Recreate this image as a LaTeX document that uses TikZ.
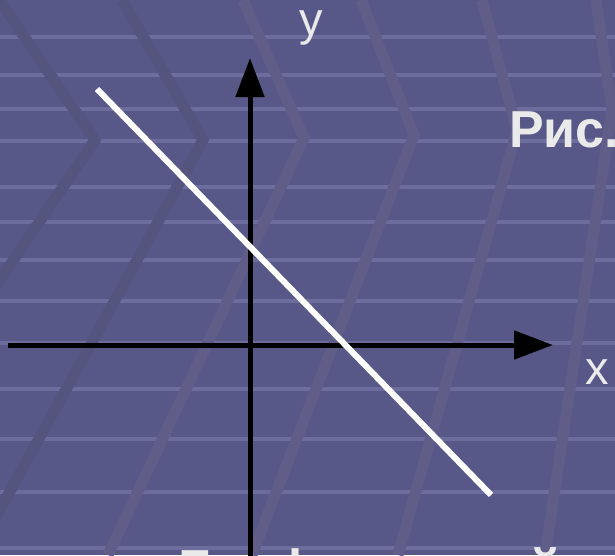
\documentclass[tikz,border=0pt]{standalone}
\usepackage{fontspec}
\setmainfont{Liberation Sans}
\usetikzlibrary{arrows.meta}
\definecolor{slidebg}{RGB}{88,88,136}
\definecolor{slidestripe}{RGB}{108,108,157}
\definecolor{slideband}{RGB}{96,94,136}
\definecolor{slidebanddk}{RGB}{84,84,126}
\definecolor{labelgray}{RGB}{234,234,234}

\begin{document}
\begin{tikzpicture}[x=1pt, y=-1pt,
        axis/.style={line width=5pt, -{Triangle[length=39pt,width=28pt]}},
        graphline/.style={white, line width=6pt},
        band/.style={slideband, line width=11pt, line join=miter},
        lbl/.style={text=labelgray, inner sep=0pt, font=\fontsize{47}{56}\selectfont},
        title/.style={text=labelgray, inner sep=0pt, font=\fontsize{52}{62}\selectfont\bfseries},
    ]
        \useasboundingbox (0,0) rectangle (615,555);
        \clip (0,0) rectangle (615,555);
        % slide background
        \fill[slidebg] (0,0) rectangle (615,555);
        \foreach \yy in {37,75,109,141,187,222,260,301,343,389,439,492,548}
            \draw[slidestripe, line width=4pt] (0,\yy) -- (615,\yy);
        \draw[band, slidebanddk] (-1,0) -- (95,140) -- (-7,290);
        \draw[band, slidebanddk] (122,0) -- (203,140) -- (-25,555);
        \draw[band] (243,0) -- (304,138) -- (108,555);
        \draw[band] (361,0) -- (414,135) -- (252,555);
        \draw[band] (482,0) -- (517,130) -- (398,555);
        \draw[band] (596,0) -- (612,110) -- (545,555);
        % texts
        \node[lbl, anchor=base west] (ylbl) at (299,35) {y};
        \node[lbl, anchor=base west] (xlbl) at (585,384) {x};
        \node[title, anchor=base west] (fig) at (509,147) {Рис.};
        \node[title, anchor=base west, font=\fontsize{55}{66}\selectfont\bfseries] (caption) at (178,588) {График линейной};
        % axes and the graph
        \coordinate (ybot) at (250,560);
        \coordinate (ytop) at (250,58);
        \coordinate (xleft) at (8,345);
        \coordinate (xright) at (553,345);
        \draw[axis] (ybot) -- (ytop);
        \draw[axis] (xleft) -- (xright);
        \coordinate (gstart) at (97,89);
        \coordinate (gend) at (491,495);
        \draw[graphline] (gstart) -- (gend);
    \end{tikzpicture}
\end{document}
